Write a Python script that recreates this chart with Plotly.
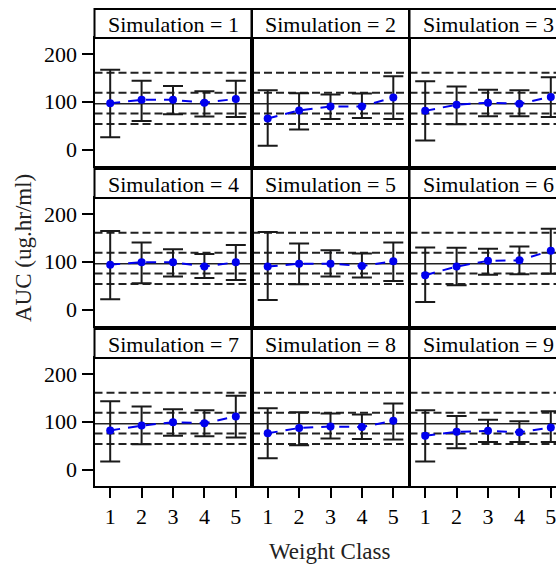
import plotly.graph_objects as go
from plotly.subplots import make_subplots

# ---------------- data ----------------
weight_class = [1, 2, 3, 4, 5]
x_tick_labels = ["1", "2", "3", "4", "5"]
y_tick_values = [0, 100, 200]

sim1_mid = [97, 104, 104, 98, 106]
sim1_lo = [26, 60, 74, 69, 68]
sim1_hi = [167, 144, 133, 122, 144]

sim2_mid = [65, 82, 90, 90, 109]
sim2_lo = [8, 42, 64, 66, 64]
sim2_hi = [124, 118, 115, 117, 153]

sim3_mid = [81, 94, 98, 96, 110]
sim3_lo = [19, 53, 70, 70, 68]
sim3_hi = [143, 132, 125, 124, 151]

sim4_mid = [94, 99, 99, 90, 99]
sim4_lo = [22, 55, 69, 66, 62]
sim4_hi = [164, 140, 126, 116, 135]

sim5_mid = [90, 96, 96, 91, 101]
sim5_lo = [20, 53, 69, 67, 60]
sim5_hi = [162, 138, 124, 117, 140]

sim6_mid = [72, 90, 102, 103, 123]
sim6_lo = [16, 51, 73, 74, 75]
sim6_hi = [130, 129, 127, 132, 169]

sim7_mid = [82, 92, 99, 97, 111]
sim7_lo = [17, 53, 71, 70, 67]
sim7_hi = [143, 132, 126, 124, 154]

sim8_mid = [76, 87, 90, 89, 102]
sim8_lo = [24, 51, 65, 64, 63]
sim8_hi = [128, 120, 117, 115, 138]

sim9_mid = [71, 79, 81, 78, 88]
sim9_lo = [17, 45, 58, 58, 58]
sim9_hi = [124, 112, 104, 101, 122]

simulation_ids = [1, 2, 3, 4, 5, 6, 7, 8, 9]
ref_dashed_levels = [160.4, 118.8, 75.7, 53.5]
ref_solid_level = 95.8

mids = [sim1_mid, sim2_mid, sim3_mid, sim4_mid, sim5_mid, sim6_mid, sim7_mid, sim8_mid, sim9_mid]
los = [sim1_lo, sim2_lo, sim3_lo, sim4_lo, sim5_lo, sim6_lo, sim7_lo, sim8_lo, sim9_lo]
his = [sim1_hi, sim2_hi, sim3_hi, sim4_hi, sim5_hi, sim6_hi, sim7_hi, sim8_hi, sim9_hi]

# ---------------- layout geometry (pixels) ----------------
W, H = 572, 567
FONT = "Liberation Serif, Times New Roman, serif"
col_left0, col_pitch, col_width = 94.5, 157.5, 157.0
row_pitch, strip_top0, plot_top0, plot_h = 160, 9, 38, 128


def px_x(p):
    return p / W


def px_y(p):
    return 1 - p / H


fig = make_subplots(rows=3, cols=3)

shapes = []
annotations = []

for i, sid in enumerate(simulation_ids):
    r, c = divmod(i, 3)
    idx = i + 1
    mid, lo, hi = mids[i], los[i], his[i]
    up = [h - m for h, m in zip(hi, mid)]
    dn = [m - l for m, l in zip(mid, lo)]

    xl = col_left0 + c * col_pitch
    xr = xl + col_width
    st = strip_top0 + r * row_pitch
    pt = plot_top0 + r * row_pitch
    pb = pt + plot_h

    xa = "x" if idx == 1 else f"x{idx}"
    ya = "y" if idx == 1 else f"y{idx}"

    # reference lines
    for lvl in ref_dashed_levels:
        shapes.append(dict(type="line", xref=f"{xa} domain", yref=ya, x0=0, x1=1, y0=lvl, y1=lvl,
                           line=dict(color="#222222", width=2, dash="8px,4px"), layer="below"))
    shapes.append(dict(type="line", xref=f"{xa} domain", yref=ya, x0=0, x1=1,
                       y0=ref_solid_level, y1=ref_solid_level,
                       line=dict(color="#222222", width=1.6), layer="below"))

    fig.add_trace(go.Scatter(
        x=weight_class, y=mid, mode="lines+markers",
        line=dict(color="#0000ee", width=2, dash="10px,8px"),
        marker=dict(color="#0000ee", size=8),
        error_y=dict(type="data", symmetric=False, array=up, arrayminus=dn,
                     color="#1a1a1a", thickness=2, width=10),
        showlegend=False,
    ), row=r + 1, col=c + 1)

    fig.layout[f"xaxis{idx}"].update(domain=[px_x(xl), px_x(xr)])
    fig.layout[f"yaxis{idx}"].update(domain=[px_y(pb), px_y(pt)])

    # strip
    shapes.append(dict(type="rect", xref="paper", yref="paper",
                       x0=px_x(xl), x1=px_x(xr), y0=px_y(pt), y1=px_y(st),
                       line=dict(color="black", width=2), fillcolor="white"))
    annotations.append(dict(text=f"Simulation = {sid}", xref="paper", yref="paper",
                            x=px_x((xl + xr) / 2), y=px_y((st + pt) / 2 + 1),
                            xanchor="center", yanchor="middle", showarrow=False,
                            font=dict(family=FONT, size=22, color="black")))

    show_x = r == 2
    show_y = c == 0
    fig.update_xaxes(row=r + 1, col=c + 1, range=[0.5, 5.5], tickvals=weight_class,
                     ticktext=x_tick_labels, showticklabels=show_x,
                     ticks="outside" if show_x else "", ticklen=10, tickwidth=2,
                     tickcolor="black", showline=True, mirror=True, linewidth=2,
                     linecolor="black", showgrid=False, zeroline=False,
                     tickfont=dict(family=FONT, size=22, color="black"))
    fig.update_yaxes(row=r + 1, col=c + 1, range=[-34, 233], tickvals=y_tick_values,
                     showticklabels=show_y,
                     ticks="outside" if show_y else "", ticklen=11, tickwidth=2,
                     tickcolor="black", showline=True, mirror=True, linewidth=2,
                     linecolor="black", showgrid=False, zeroline=False,
                     tickfont=dict(family=FONT, size=22, color="black"))

annotations.append(dict(text="AUC (ug.hr/ml)", xref="paper", yref="paper",
                        x=px_x(23), y=px_y(248), textangle=-90, showarrow=False,
                        xanchor="center", yanchor="middle",
                        font=dict(family=FONT, size=23, color="#222222")))
annotations.append(dict(text="Weight Class", xref="paper", yref="paper",
                        x=px_x(330), y=px_y(551), showarrow=False,
                        xanchor="center", yanchor="middle",
                        font=dict(family=FONT, size=23, color="#222222")))

fig.update_layout(
    width=W, height=H,
    margin=dict(l=0, r=0, t=0, b=0),
    paper_bgcolor="white", plot_bgcolor="white",
    shapes=shapes, annotations=annotations,
    showlegend=False,
    font=dict(family=FONT, color="black"),
)

fig.write_html("out.html", config={"displayModeBar": False},
               post_script="document.body.style.margin='0';document.body.style.overflow='hidden';")
